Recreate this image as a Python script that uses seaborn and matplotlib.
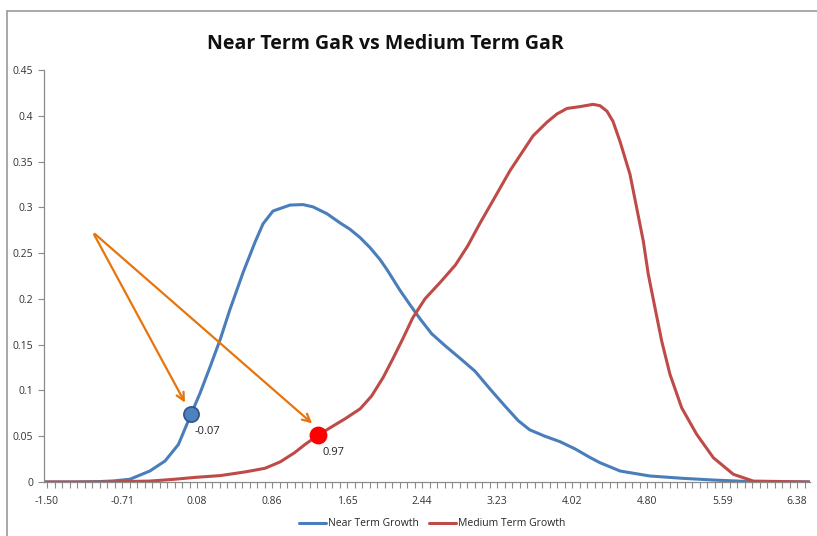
import numpy as np
import pandas as pd
import seaborn as sns
import matplotlib.pyplot as plt
from matplotlib.lines import Line2D

# ---- data ----
near_x = [-1.53, -1.2, -0.94, -0.80, -0.63, -0.42, -0.26, -0.12, 0.013, 0.107, 0.21, 0.32, 0.42, 0.56,
          0.685, 0.769, 0.874, 1.053, 1.189, 1.294, 1.441, 1.578, 1.683, 1.788, 1.893, 1.998, 2.071,
          2.21, 2.31, 2.42, 2.54, 2.68, 2.84, 2.996, 3.15, 3.31, 3.45, 3.57, 3.73, 3.89, 4.05, 4.20,
          4.31, 4.52, 4.83, 5.18, 5.53, 5.88, 6.51]
near_y = [0.0, 0.0, 0.0005, 0.0012, 0.003, 0.012, 0.023, 0.041, 0.074, 0.097, 0.125, 0.156, 0.188, 0.229,
          0.262, 0.282, 0.296, 0.3025, 0.303, 0.3005, 0.293, 0.283, 0.276, 0.267, 0.256, 0.243, 0.232,
          0.209, 0.194, 0.178, 0.162, 0.149, 0.135, 0.121, 0.102, 0.083, 0.067, 0.057, 0.050, 0.044, 0.036, 0.027,
          0.021, 0.012, 0.0066, 0.004, 0.002, 0.0005, 0.0]

med_x = [-1.53, -0.94, -0.42, -0.16, 0.05, 0.32, 0.58, 0.79, 0.95, 1.10, 1.21, 1.347, 1.47, 1.63, 1.79,
         1.91, 2.03, 2.13, 2.24, 2.34, 2.47, 2.63, 2.79, 2.92, 3.05, 3.21, 3.363, 3.50, 3.605, 3.752,
         3.857, 3.962, 4.099, 4.235, 4.309, 4.382, 4.445, 4.519, 4.624, 4.694, 4.764, 4.816, 4.887,
         4.957, 5.044, 5.167, 5.325, 5.50, 5.71, 5.92, 6.51]
med_y = [0.0, 0.0, 0.001, 0.003, 0.005, 0.007, 0.011, 0.015, 0.022, 0.032, 0.041, 0.051, 0.059, 0.069, 0.080,
         0.094, 0.114, 0.134, 0.157, 0.179, 0.200, 0.218, 0.237, 0.258, 0.283, 0.312, 0.34, 0.3615, 0.378, 0.393,
         0.402, 0.408, 0.41, 0.4125, 0.411, 0.405, 0.394, 0.372, 0.336, 0.2996, 0.263, 0.227, 0.19,
         0.154, 0.1176, 0.081, 0.052, 0.0265, 0.0084, 0.001, 0.0]

series_names = ["Near Term Growth", "Medium Term Growth"]
xtick_labels = ["-1.50", "-0.71", "0.08", "0.86", "1.65", "2.44", "3.23", "4.02", "4.80", "5.59", "6.38"]
ytick_values = [0, 0.05, 0.1, 0.15, 0.2, 0.25, 0.3, 0.35, 0.4, 0.45]
ytick_labels = ["0", "0.05", "0.1", "0.15", "0.2", "0.25", "0.3", "0.35", "0.4", "0.45"]

gar_near = (0.013, 0.074, "-0.07")
gar_med = (1.347, 0.051, "0.97")
arrow_start = (-1.02, 0.273)

title = "Near Term GaR vs Medium Term GaR"

# ---- build frame ----
df = pd.concat([
    pd.DataFrame({"x": near_x, "y": near_y, "series": series_names[0]}),
    pd.DataFrame({"x": med_x, "y": med_y, "series": series_names[1]}),
])

sns.set_style("white")
plt.rcParams['font.family'] = ['Open Sans', 'DejaVu Sans']

fig = plt.figure(figsize=(8.17, 5.36), dpi=100)
ax = fig.add_axes([44/817, 54/536, 766/817, 412/536])

blue = "#4A7EBB"
red = "#BE4B48"
sns.lineplot(data=df, x="x", y="y", hue="series", palette=[blue, red], linewidth=2.2,
             ax=ax, legend=False, sort=False, solid_joinstyle="round", solid_capstyle="round")

ax.set_xlim(-1.532, 6.515)
ax.set_ylim(0, 0.45)

xt = [-1.50 + i * 0.788 for i in range(len(xtick_labels))]
ax.set_xticks(xt)
ax.set_xticklabels(xtick_labels, fontsize=7.5, color="#333333")
ax.set_xticks(np.arange(-1.50, 6.52, 0.0788), minor=True)
ax.set_yticks(ytick_values)
ax.set_yticklabels(ytick_labels, fontsize=7.5, color="#333333")
ax.tick_params(axis="x", which="both", direction="out", length=4, width=0.8, color="#8a8a8a",
               bottom=True, pad=6)
ax.tick_params(axis="y", which="major", direction="out", length=4, width=0.8, color="#8a8a8a",
               left=True, pad=4)
ax.set_xlabel("")
ax.set_ylabel("")
for s in ["top", "right"]:
    ax.spines[s].set_visible(False)
for s in ["left", "bottom"]:
    ax.spines[s].set_color("#8a8a8a")
    ax.spines[s].set_linewidth(0.9)

# arrows
arrow_color = "#E8740C"
for tgt in [(gar_near[0] - 0.05, gar_near[1] + 0.01), (gar_med[0] - 0.04, gar_med[1] + 0.011)]:
    ax.annotate("", xy=tgt, xytext=arrow_start,
                arrowprops=dict(arrowstyle="->", color=arrow_color, lw=1.6, mutation_scale=14))

# GaR markers
ax.scatter([gar_near[0]], [gar_near[1]], s=120, color="#4F81BD", edgecolor="#2C5489",
           linewidth=1.2, zorder=5)
ax.scatter([gar_med[0]], [gar_med[1]], s=140, color="#FF0000", edgecolor="#FF0000", zorder=5)
ax.text(gar_near[0] + 0.04, gar_near[1] - 0.013, gar_near[2], fontsize=8, va="top", ha="left", color="#222222")
ax.text(gar_med[0] + 0.05, gar_med[1] - 0.013, gar_med[2], fontsize=8, va="top", ha="left", color="#222222")

# title
fig.text(385/817, 1 - 44/536, title, ha="center", va="center", fontsize=14, fontweight="bold",
         color="#111111")

# legend
handles = [Line2D([0], [0], color=blue, lw=2.2), Line2D([0], [0], color=red, lw=2.2)]
fig.legend(handles, series_names, loc="center", bbox_to_anchor=(432/817, 1 - 524/536), ncol=2,
           frameon=False, fontsize=7.5, handlelength=2.6, handletextpad=0.2, columnspacing=1.0)

# chart border
fig.add_artist(Line2D([7/817, 7/817], [0, 1 - 11/536], color="#9a9a9a", lw=1.2, transform=fig.transFigure))
fig.add_artist(Line2D([7/817, 1], [1 - 11/536, 1 - 11/536], color="#9a9a9a", lw=1.2, transform=fig.transFigure))

fig.savefig("out.png", dpi=100)
